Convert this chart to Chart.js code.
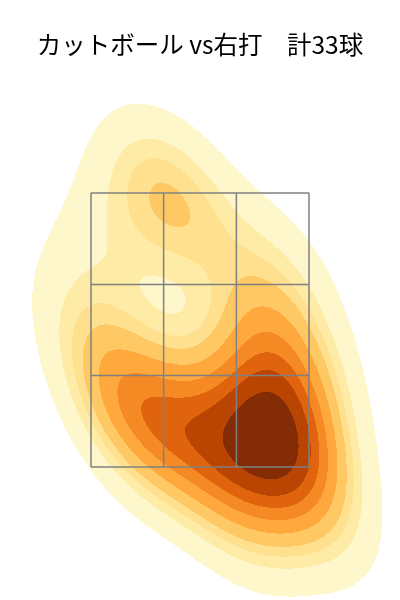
<!DOCTYPE html>
<html>
<head>
<meta charset="utf-8">
<script src="https://cdn.jsdelivr.net/npm/chart.js@4.4.0/dist/chart.umd.min.js"></script>
<style>
html, body { margin: 0; padding: 0; background: #fff; }
canvas { display: block; }
</style>
</head>
<body>
<canvas id="chart" width="400" height="600"></canvas>
<script>
// ==================== DATOS ====================
// 投球位置 (ft)  plate_x / plate_z
const pitchX = [0.50, 0.61, 0.42, 0.69, 0.53, 0.34, 0.72, 0.57, 0.23, 0.76, 0.46, 0.65,
                0.00, -0.19, -0.38, -0.08, -0.49, 0.08,
                -0.46, -0.57, -0.91,
                0.53, 0.80, 0.49, 0.65,
                -0.30, -0.42, -0.24, -0.70, 0.08,
                0.99, 0.30, -0.76];
const pitchZ = [1.77, 1.66, 1.59, 1.84, 1.48, 1.92, 1.55, 1.99, 1.70, 1.70, 1.33, 2.10,
                1.84, 1.92, 1.81, 1.66, 1.92, 1.48,
                1.70, 2.03, 2.65,
                2.43, 2.28, 2.57, 2.94,
                3.49, 3.38, 3.58, 3.08, 3.30,
                1.11, 1.11, 2.21];

// ストライクゾーン 3x3
const zoneX = [-0.83, -0.277, 0.277, 0.83];
const zoneZ = [1.5, 2.167, 2.833, 3.5];

// iso-proportion levels (seaborn: thresh=0.05, levels=10)
const levels = [0.05, 0.1556, 0.2611, 0.3667, 0.4722, 0.5778, 0.6833, 0.7889, 0.8944, 1.0];
const bandColors = ['#fff7cc', '#feeba5', '#fee08f', '#fec965', '#fea83d',
                    '#f58a24', '#e0640e', '#ba4503', '#832c05'];
const bwAdjust = 1.1;

const titulo = 'カットボール vs右打\u3000計33球';

// ==================== KDE ====================
function makeKde(xs, zs, adj) {
    const n = xs.length;
    const mx = xs.reduce((s, v) => s + v, 0) / n;
    const mz = zs.reduce((s, v) => s + v, 0) / n;
    let sxx = 0, szz = 0, sxz = 0;
    for (let i = 0; i < n; i++) {
        const dx = xs[i] - mx, dz = zs[i] - mz;
        sxx += dx * dx; szz += dz * dz; sxz += dx * dz;
    }
    const f = Math.pow(n, -1 / 6) * adj;
    const a = sxx / (n - 1) * f * f, b = sxz / (n - 1) * f * f, c = szz / (n - 1) * f * f;
    const det = a * c - b * b;
    const ia = c / det, ib = -b / det, ic = a / det;
    const norm = 1 / (n * 2 * Math.PI * Math.sqrt(det));
    return (x, z) => {
        let s = 0;
        for (let i = 0; i < n; i++) {
            const dx = x - xs[i], dz = z - zs[i];
            s += Math.exp(-0.5 * (ia * dx * dx + 2 * ib * dx * dz + ic * dz * dz));
        }
        return s * norm;
    };
}

const kdePlugin = {
    id: 'kdeFill',
    beforeDatasetsDraw(chart) {
        const { ctx, chartArea: area, scales: { x, y } } = chart;
        const kde = makeKde(pitchX, pitchZ, bwAdjust);
        const w = Math.round(area.right - area.left);
        const h = Math.round(area.bottom - area.top);
        const dens = new Float64Array(w * h);
        for (let j = 0; j < h; j++) {
            const vz = y.getValueForPixel(area.top + j + 0.5);
            for (let i = 0; i < w; i++) {
                dens[j * w + i] = kde(x.getValueForPixel(area.left + i + 0.5), vz);
            }
        }
        // niveles por proporción de masa
        const sorted = Float64Array.from(dens).sort().reverse();
        const total = sorted.reduce((s, v) => s + v, 0);
        const thr = levels.map(p => {
            const target = (1 - p) * total;
            let cum = 0;
            for (let i = 0; i < sorted.length; i++) {
                cum += sorted[i];
                if (cum >= target) return sorted[i];
            }
            return sorted[sorted.length - 1];
        });
        thr[thr.length - 1] = sorted[0];

        const bandOf = d => {
            if (d < thr[0]) return -1;
            let k = 0;
            while (k < thr.length - 2 && d >= thr[k + 1]) k++;
            return k;
        };

        ctx.save();
        for (let j = 0; j < h; j++) {
            let i = 0;
            while (i < w) {
                const b = bandOf(dens[j * w + i]);
                let e = i + 1;
                while (e < w && bandOf(dens[j * w + e]) === b) e++;
                if (b >= 0) {
                    ctx.fillStyle = bandColors[b];
                    ctx.fillRect(area.left + i, area.top + j, e - i, 1);
                }
                i = e;
            }
        }
        ctx.restore();
    }
};

// ==================== GRÁFICO ====================
const zoneDatasets = [];
zoneX.forEach(zx => zoneDatasets.push({
    data: [{ x: zx, y: zoneZ[0] }, { x: zx, y: zoneZ[zoneZ.length - 1] }],
    showLine: true, borderColor: '#808080', borderWidth: 1.5, pointRadius: 0, fill: false
}));
zoneZ.forEach(zz => zoneDatasets.push({
    data: [{ x: zoneX[0], y: zz }, { x: zoneX[zoneX.length - 1], y: zz }],
    showLine: true, borderColor: '#808080', borderWidth: 1.5, pointRadius: 0, fill: false
}));

new Chart(document.getElementById('chart').getContext('2d'), {
    type: 'scatter',
    data: { datasets: zoneDatasets },
    options: {
        responsive: false,
        animation: false,
        layout: { padding: 0 },
        plugins: {
            legend: { display: false },
            tooltip: { enabled: false },
            title: {
                display: true,
                text: titulo,
                color: '#000',
                font: { family: '"Noto Sans CJK JP", "Noto Sans", sans-serif', size: 24.5, weight: 'normal' },
                padding: { top: 29.5, bottom: 21.1 }
            }
        },
        scales: {
            x: { type: 'linear', min: -1.523, max: 1.523, display: false },
            y: { type: 'linear', min: 0.529, max: 4.325, display: false }
        }
    },
    plugins: [kdePlugin]
});
</script>
</body>
</html>
